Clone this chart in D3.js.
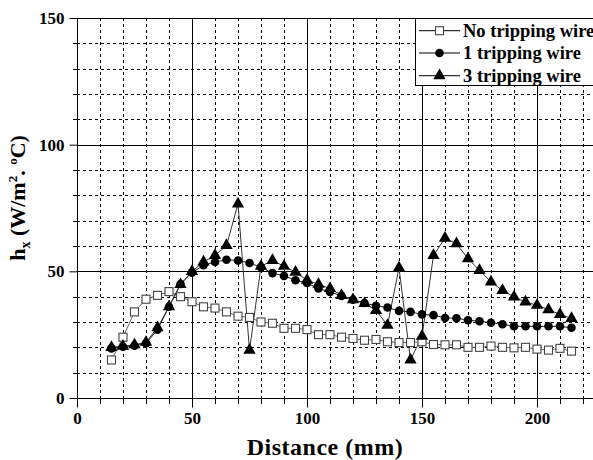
<!DOCTYPE html>
<html><head><meta charset="utf-8">
<script src="https://cdn.jsdelivr.net/npm/d3@7"></script>
<style>body{margin:0;background:#fff}svg{display:block}
svg text{font-family:'Liberation Serif','Times New Roman','DejaVu Serif',serif !important;font-weight:700 !important}</style>
</head><body><svg id="c" width="593" height="460"></svg>
<script>
const distance = [15,20,25,30,35,40,45,50,55,60,65,70,75,80,85,90,95,100,105,110,115,120,125,130,135,140,145,150,155,160,165,170,175,180,185,190,195,200,205,210,215];
const noWire = [15,24,34,39,40.5,42,40,38,36,35.5,34,32.3,31.8,30,29.5,27.5,27.5,27,25,25,24,23.5,22.8,23.1,22.2,21.9,21.9,22.2,21.1,21,21,20,20,20.5,20,19.8,20,19.3,18.9,19.6,18.5];
const oneWire = [19.6,20.2,20.6,21.5,27,36,45,49.5,52.4,53.7,54.6,54.3,53.3,51.6,49.3,48.2,46.5,45.4,43.2,41.9,40.3,38.8,37.5,36.4,35.7,34.4,34,33,32.7,31.6,31.5,30.7,30.3,29.7,29.1,28.3,28.3,28.3,28.3,28.3,27.7];
const threeWire = [20,20.5,21,22,27.8,36,44.8,50,53.7,56.3,60.2,76.6,18.9,52,54.3,52,49.7,46.5,44.9,43.2,40.5,38.8,37.3,34.6,28.7,51.4,15,24.4,56.3,63.1,60.9,55,50.4,45.8,42.5,39.9,37.9,36.6,34.9,33,31.4];
const seriesNames = ["No tripping wire","1 tripping wire","3 tripping wire"];
const xTicks = [0,50,100,150,200];
const yTicks = [0,50,100,150];

const svg = d3.select("#c");
const L=77, R=594.5, T=18, B=398;
const x = d3.scaleLinear().domain([0,225]).range([L,R]);
const y = d3.scaleLinear().domain([0,150]).range([B,T]);

const g = svg.append("g");
const minorX = d3.range(10,225,10).filter(v=>v%50!==0);
const minorY = d3.range(10,150,10).filter(v=>v%50!==0);
g.selectAll(".gx").data(minorX).join("line").attr("x1",d=>Math.round(x(d))+0.5).attr("x2",d=>Math.round(x(d))+0.5).attr("y1",T).attr("y2",B)
 .attr("stroke","#000").attr("stroke-dasharray","3,3");
g.selectAll(".gy").data(minorY).join("line").attr("y1",d=>Math.round(y(d))+0.5).attr("y2",d=>Math.round(y(d))+0.5).attr("x1",L).attr("x2",R)
 .attr("stroke","#000").attr("stroke-dasharray","3,3");
g.selectAll(".mx").data([50,100,150,200]).join("line").attr("x1",d=>Math.round(x(d))+0.5).attr("x2",d=>Math.round(x(d))+0.5).attr("y1",T).attr("y2",B)
 .attr("stroke","#000");
g.selectAll(".my").data([50,100]).join("line").attr("y1",d=>Math.round(y(d))+0.5).attr("y2",d=>Math.round(y(d))+0.5).attr("x1",L).attr("x2",R)
 .attr("stroke","#000");
g.append("rect").attr("x",L+0.5).attr("y",T+0.5).attr("width",R-L).attr("height",B-T).attr("fill","none").attr("stroke","#000");

const xAxis = d3.axisBottom(x).tickValues(xTicks).tickSize(9).tickPadding(4).tickFormat(d3.format("d"));
const xa = svg.append("g").attr("transform",`translate(0,${B+0.5})`).call(xAxis);
xa.select(".domain").remove();
xa.selectAll("text").attr("font-size",17).attr("fill","#000").attr("dy","0.71em");
svg.append("g").selectAll("line").data(minorX).join("line").attr("x1",d=>Math.round(x(d))+0.5).attr("x2",d=>Math.round(x(d))+0.5)
 .attr("y1",B-2).attr("y2",B+6).attr("stroke","#000");

const yAxis = d3.axisLeft(y).tickValues(yTicks).tickSize(8).tickPadding(5).tickFormat(d3.format("d"));
const ya = svg.append("g").attr("transform",`translate(${L+0.5},0)`).call(yAxis);
ya.select(".domain").remove();
ya.selectAll("text").attr("font-size",17).attr("fill","#000");
svg.append("g").selectAll("line").data(minorY).join("line").attr("y1",d=>Math.round(y(d))+0.5).attr("y2",d=>Math.round(y(d))+0.5)
 .attr("x1",L-4).attr("x2",L+3).attr("stroke","#000");

svg.append("text").attr("x",325).attr("y",455).attr("text-anchor","middle").attr("font-size",24).attr("letter-spacing","0.5px").text("Distance (mm)");
const yt = svg.append("text").attr("transform","translate(25,198) rotate(-90)").attr("text-anchor","middle").attr("font-size",22);
yt.append("tspan").text("h");
yt.append("tspan").attr("font-size",14).attr("dy",5).text("x");
yt.append("tspan").attr("dy",-5).text(" (W/m");
yt.append("tspan").attr("font-size",13).attr("dy",-8).text("2");
yt.append("tspan").attr("dy",8).text(". ");
yt.append("tspan").attr("font-size",13).attr("dy",-8).text("o");
yt.append("tspan").attr("dy",8).text("C)");

const data = [noWire, oneWire, threeWire];
const line = d3.line().x((d,i)=>x(distance[i])).y(d=>y(d));
const lineColors = ["#666","#222","#333"];
data.forEach((s,k)=>{
  svg.append("path").datum(s).attr("d",line).attr("fill","none").attr("stroke",lineColors[k]).attr("stroke-width",1);
});
function drawMarker(sel,k){
  if(k===0) sel.append("rect").attr("x",-4).attr("y",-4).attr("width",8).attr("height",8).attr("fill","#fff").attr("stroke","#444").attr("stroke-width",1.1);
  else if(k===1) sel.append("circle").attr("r",4.3).attr("fill","#000");
  else sel.append("path").attr("d",d3.symbol(d3.symbolTriangle,66)()).attr("fill","#000");
}
data.forEach((s,k)=>{
  svg.append("g").selectAll("g").data(s).join("g").attr("transform",(d,i)=>`translate(${x(distance[i])},${y(d)})`).each(function(){drawMarker(d3.select(this),k);});
});

const lg = svg.append("g");
lg.append("rect").attr("x",415.5).attr("y",18.5).attr("width",200).attr("height",67).attr("fill","#fff").attr("stroke","#000");
const rows=[30.7,53,75.7];
seriesNames.forEach((n,k)=>{
  const r = lg.append("g").attr("transform",`translate(0,${rows[k]})`);
  r.append("line").attr("x1",419).attr("x2",460).attr("stroke","#000");
  const m = r.append("g").attr("transform","translate(439.5,0)"); drawMarker(m,k);
  r.append("text").attr("x",463).attr("y",0).attr("dy","0.35em").attr("font-size",18.5).text(n);
});
</script></body></html>
